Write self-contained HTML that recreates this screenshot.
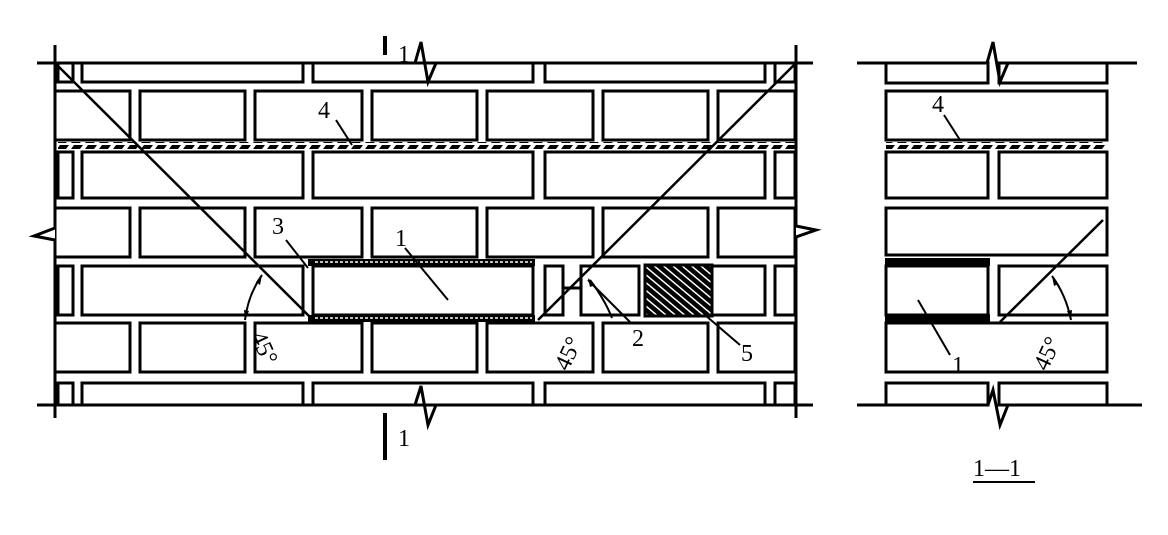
<!DOCTYPE html>
<html><head><meta charset="utf-8"><style>
html,body{margin:0;padding:0;background:#fff;}
svg{display:block;}
text{font-family:"Liberation Serif",serif;fill:#000;}
</style></head><body>
<svg width="1168" height="535" viewBox="0 0 1168 535" xmlns="http://www.w3.org/2000/svg">
<defs>
<pattern id="hat" width="14" height="6" patternUnits="userSpaceOnUse">
<rect width="14" height="6" fill="#fff"/>
<path d="M1 5 L4 1 L13 1 L10 5 Z" fill="#000"/>
</pattern>
<pattern id="dk" width="6" height="6" patternUnits="userSpaceOnUse" patternTransform="rotate(-50)">
<rect width="6" height="6" fill="#000"/><rect x="0" y="0" width="1.5" height="6" fill="#fff"/>
</pattern>
</defs>
<g fill="none" stroke="#000" stroke-width="3">
<rect x="58" y="63" width="15" height="19"/>
<rect x="82" y="63" width="221" height="19"/>
<rect x="313" y="63" width="220" height="19"/>
<rect x="545" y="63" width="220" height="19"/>
<rect x="775" y="63" width="20" height="19"/>
<rect x="58" y="383" width="15" height="22"/>
<rect x="82" y="383" width="221" height="22"/>
<rect x="313" y="383" width="220" height="22"/>
<rect x="545" y="383" width="220" height="22"/>
<rect x="775" y="383" width="20" height="22"/>
<g id="r1">
<rect x="55" y="91" width="75" height="49"/>
<rect x="140" y="91" width="105" height="49"/>
<rect x="255" y="91" width="107" height="49"/>
<rect x="372" y="91" width="105" height="49"/>
<rect x="487" y="91" width="106" height="49"/>
<rect x="603" y="91" width="105" height="49"/>
<rect x="718" y="91" width="77" height="49"/>
</g>
<use href="#r1" y="117"/>
<use href="#r1" y="232"/>
<rect x="58" y="152" width="15" height="46"/>
<rect x="82" y="152" width="221" height="46"/>
<rect x="313" y="152" width="220" height="46"/>
<rect x="545" y="152" width="220" height="46"/>
<rect x="775" y="152" width="20" height="46"/>
<rect x="58" y="266" width="15" height="49"/>
<rect x="82" y="266" width="221" height="49"/>
<rect x="313" y="266" width="220" height="49"/>
<rect x="545" y="266" width="18" height="49"/>
<rect x="581" y="266" width="58" height="49"/>
<rect x="712" y="266" width="53" height="49"/>
<rect x="775" y="266" width="20" height="49"/>
<line x1="563" y1="288" x2="581" y2="288"/>
</g>
<rect x="645" y="265" width="67" height="51" fill="url(#dk)" stroke="#000" stroke-width="3"/>
<rect x="308" y="259" width="227" height="7" fill="#000"/>
<rect x="308" y="315" width="227" height="7" fill="#000"/>
<line x1="315" y1="262" x2="532" y2="262" stroke="#fff" stroke-width="1.5" stroke-dasharray="3 2"/>
<line x1="315" y1="318" x2="532" y2="318" stroke="#fff" stroke-width="1.5" stroke-dasharray="3 2"/>
<rect x="58" y="142" width="737" height="8" fill="url(#hat)"/>
<g stroke="#000" stroke-width="3" fill="none">
<polyline points="37,63 415,63 421,42 428,82 436,63 813,63"/>
<polyline points="37,405 415,405 421,386 428,425 436,405 813,405"/>
<line x1="55" y1="45" x2="55" y2="418"/>
<line x1="796" y1="45" x2="796" y2="418"/>
<polyline points="55,215 55,228 34,236 55,240 55,250" fill="#fff"/>
<polyline points="796,215 796,226 816,230 796,237 796,250" fill="#fff"/>
<line x1="385" y1="36" x2="385" y2="55" stroke-width="4"/>
<line x1="385" y1="413" x2="385" y2="460" stroke-width="4"/>
<line x1="55" y1="63" x2="313" y2="320" stroke-width="2.5"/>
<line x1="796" y1="63" x2="538" y2="320" stroke-width="2.5"/>
<line x1="336" y1="120" x2="352" y2="145" stroke-width="2"/>
<line x1="286" y1="240" x2="308" y2="268" stroke-width="2"/>
<line x1="405" y1="248" x2="448" y2="300" stroke-width="2"/>
<line x1="630" y1="322" x2="588" y2="280" stroke-width="2"/>
<line x1="740" y1="345" x2="705" y2="315" stroke-width="2"/>
<path d="M262 275 Q248 295 245 320" stroke-width="2"/>
<path d="M590 280 Q605 300 612 318" stroke-width="2"/>
</g>
<path d="M262 275 l-2 10 l-4 -3 Z M245 320 l-1 -10 l5 1 Z" fill="#000"/>
<path d="M588 278 l7 7 l-5 2 Z" fill="#000"/>
<text x="318" y="118" font-size="24">4</text>
<text x="272" y="234" font-size="24">3</text>
<text x="395" y="246" font-size="24">1</text>
<text x="632" y="346" font-size="24">2</text>
<text x="741" y="361" font-size="24">5</text>
<text x="0" y="0" font-size="24" transform="translate(250,336) rotate(65)">45°</text>
<text x="0" y="0" font-size="24" transform="translate(568,372) rotate(-65)">45°</text>
<text x="398" y="62" font-size="24">1</text>
<text x="398" y="446" font-size="24">1</text>

<g fill="none" stroke="#000" stroke-width="3">
<rect x="886" y="63" width="102" height="20"/>
<rect x="999" y="63" width="108" height="20"/>
<rect x="886" y="91" width="221" height="49"/>
<rect x="886" y="152" width="102" height="46"/>
<rect x="999" y="152" width="108" height="46"/>
<rect x="886" y="208" width="221" height="47"/>
<rect x="886" y="266" width="102" height="49"/>
<rect x="999" y="266" width="108" height="49"/>
<rect x="886" y="323" width="221" height="49"/>
<rect x="886" y="383" width="102" height="22"/>
<rect x="999" y="383" width="108" height="22"/>
</g>
<rect x="886" y="142" width="221" height="8" fill="url(#hat)"/>
<rect x="885" y="258" width="105" height="8" fill="#000"/>
<rect x="885" y="314" width="105" height="8" fill="#000"/>
<g stroke="#000" stroke-width="3" fill="none">
<polyline points="857,63 987,63 993,42 1000,82 1008,63 1137,63"/>
<polyline points="857,405 988,405 993,390 1000,425 1008,405 1142,405"/>
<line x1="1103" y1="220" x2="1000" y2="322" stroke-width="2.5"/>
<line x1="944" y1="115" x2="960" y2="140" stroke-width="2"/>
<line x1="918" y1="300" x2="950" y2="355" stroke-width="2"/>
<path d="M1052 276 Q1066 295 1071 320" stroke-width="2"/>
<line x1="973" y1="482" x2="1035" y2="482" stroke-width="2"/>
</g>
<path d="M1052 276 l6 8 l-4 2 Z M1071 320 l-4 -9 l5 -1 Z" fill="#000"/>
<text x="932" y="112" font-size="24">4</text>
<text x="952" y="373" font-size="24">1</text>
<text x="0" y="0" font-size="24" transform="translate(1047,372) rotate(-65)">45°</text>
<text x="973" y="476" font-size="24">1—1</text>
</svg>
</body></html>
